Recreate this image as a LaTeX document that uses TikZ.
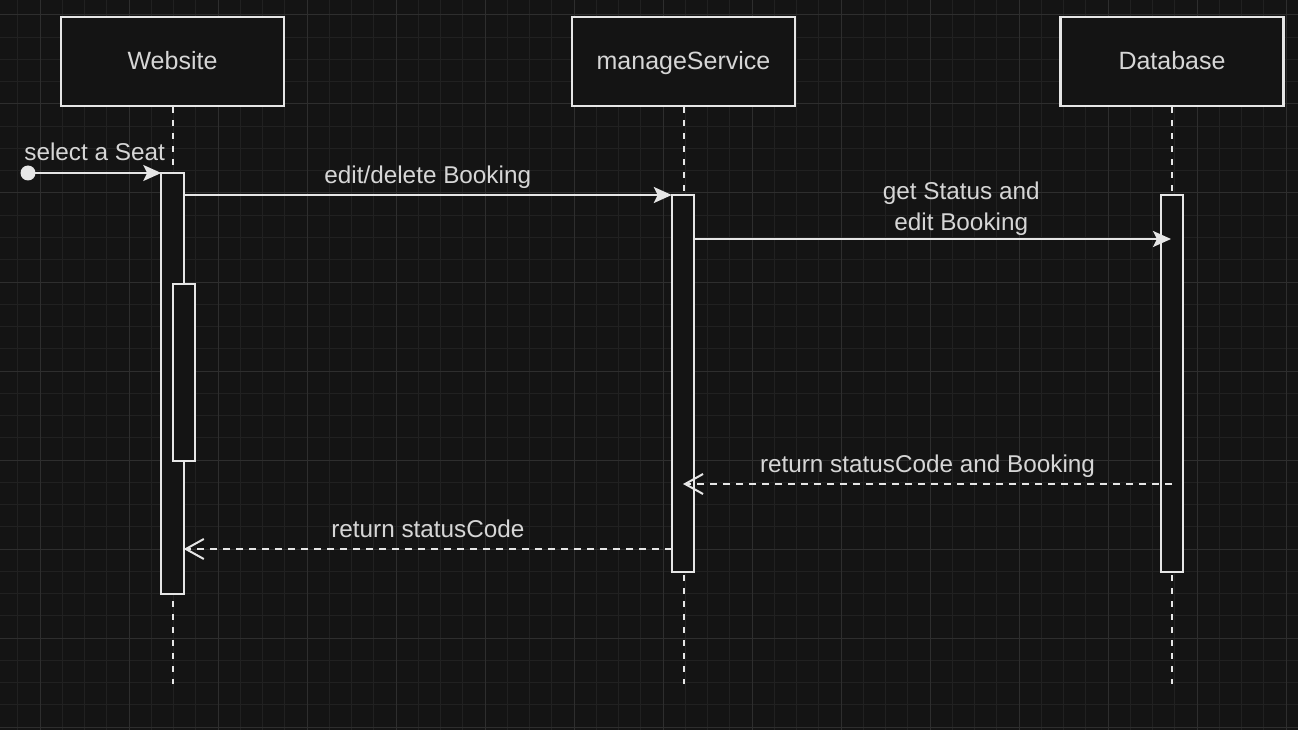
\documentclass[tikz,border=0pt]{standalone}
\usepackage{fontspec}
\setmainfont{Liberation Sans}
\usetikzlibrary{arrows.meta}
\definecolor{bg}{HTML}{141414}
\definecolor{gridminor}{HTML}{212121}
\definecolor{gridmajor}{HTML}{2E2E2E}
\definecolor{ink}{HTML}{E6E6E6}
\definecolor{txt}{HTML}{D6D6D6}

\begin{document}
\begin{tikzpicture}[x=1pt,y=-1pt,line width=2.2pt,
	head/.style={
		draw=ink, % lifeline heads
		fill=bg,
		minimum width=223pt,
		minimum height=89pt,
		text=txt,
		text height=19.5pt,
		text depth=3.5pt,
		font=\fontsize{25}{30}\selectfont,
	},
	act/.style={draw=ink,fill=bg,minimum width=22.5pt,inner sep=0pt,outer sep=0pt},
	life/.style={draw=ink,line width=2pt,dash pattern=on 6pt off 7pt},
	msg/.style={draw=ink,-{Stealth[length=18pt,width=16pt,inset=4pt]}},
	reply/.style={draw=ink,line width=2pt,dash pattern=on 7pt off 6pt,-{Straight Barb[length=18pt,width=20pt]}},
	lbl/.style={text=txt,font=\fontsize{24.3}{31}\selectfont,align=center,inner sep=0pt},
]
	\useasboundingbox (0,0) rectangle (1298,730);
	\fill[bg] (0,0) rectangle (1298,730);
	% background grid
	\foreach \x in {17.75,40,...,1298}{
		\draw[gridminor,line width=1pt] (\x,0) -- (\x,730);
	}
	\foreach \y in {15,37.25,...,730}{
		\draw[gridminor,line width=1pt] (0,\y) -- (1298,\y);
	}
	\foreach \x in {40,129,...,1298}{
		\draw[gridmajor,line width=1pt] (\x,0) -- (\x,730);
	}
	\foreach \y in {15,104,...,730}{
		\draw[gridmajor,line width=1pt] (0,\y) -- (1298,\y);
	}

	\node[head] (website) at (172.5,61.5) {Website};
	\node[head] (manage) at (683.5,61.5) {manageService};
	\node[head] (database) at (1172,61.5) {Database};
	\foreach \n in {website,manage,database}{
		\draw[life] (\n.south) -- ++(0,577);
	}

	\node[act,minimum height=421pt] (act-w) at (172.5,383.5) {};
	\node[act,minimum height=177pt] (act-w2) at (184,372.5) {};
	\node[act,minimum height=377pt] (act-m) at (683,383.5) {};
	\node[act,minimum height=377pt] (act-d) at (1172,383.5) {};

	\coordinate (seat-start) at (28,173);
	\fill[ink] (seat-start) circle (7.5pt);
	\draw[msg] (seat-start) -- (act-w.north west)
		node[lbl,midway,yshift=21pt] {select a Seat};
	\draw[msg] (act-w.east |- act-m.north) -- (act-m.north west)
		node[lbl,midway,yshift=18pt] {edit/delete Booking};
	\coordinate (get-end) at (1171,239);
	\draw[msg] (act-m.east |- get-end) -- (get-end)
		node[lbl,pos=0.56,yshift=30.5pt] {get Status and\\edit Booking};

	\coordinate (back-start) at (1172,484);
	\draw[reply] (back-start) -- (act-m.center |- back-start)
		node[lbl,midway,yshift=18pt] {return statusCode and Booking};
	\coordinate (ret-start) at (672,549);
	\draw[reply] (ret-start) -- (act-w.east |- ret-start)
		node[lbl,midway,yshift=20pt] {return statusCode};

\end{tikzpicture}
\end{document}
